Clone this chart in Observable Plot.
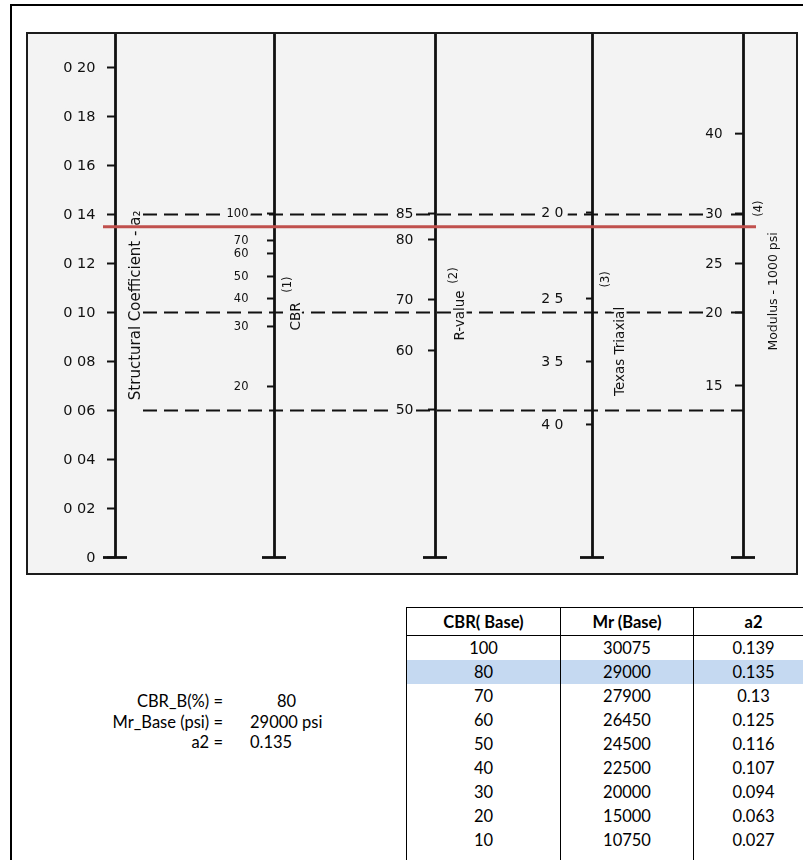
<!DOCTYPE html>
<html>
<head>
<meta charset="utf-8">
<script src="https://cdn.jsdelivr.net/npm/d3@7"></script>
<script src="https://cdn.jsdelivr.net/npm/@observablehq/plot@0.6"></script>
<style>
  html, body { margin: 0; padding: 0; background: #fff; }
  #page { position: relative; width: 803px; height: 860px; overflow: hidden; background: #fff; }
  .edge { position: absolute; background: #000; }
  #nomo { position: absolute; left: 27px; top: 33px; width: 770px; height: 541px; }
  #nomo svg { display: block; filter: blur(0.3px); }
  #nomo-border { position: absolute; left: 26px; top: 32px; width: 772px; height: 543px;
                 border: 2px solid #1c1c1c; box-sizing: border-box; pointer-events: none; }
  .inp { position: absolute; font-family: Lato, "Open Sans", sans-serif; font-size: 16.5px;
         line-height: 20px; color: #000; white-space: nowrap; }
  table.lut { position: absolute; left: 406px; top: 607px; width: 407px; border-collapse: collapse;
              table-layout: fixed; font-family: Lato, "Open Sans", sans-serif; font-size: 16.5px; color: #000; }
  .lut th { height: 27px; padding: 0; font-weight: 700; text-align: center; border: 1.5px solid #000; }
  .lut td { height: 24px; padding: 0; text-align: center; border-left: 1.5px solid #000; border-right: 1.5px solid #000; }
  .lut tr.sel td { background: #c5d9f1; }
</style>
</head>
<body>
<div id="page">
  <div class="edge" style="left:10px;top:4px;width:793px;height:2px"></div>
  <div class="edge" style="left:10px;top:4px;width:1.5px;height:856px"></div>
  <div id="nomo"></div>
  <div id="nomo-border"></div>
</div>
<script>
// ---- Nomograph scales (each tick sits at the a2 level it corresponds to) ----
const axisIds = ["a2", "CBR", "R", "TT", "Mr"];

const a2Ticks = [0, 0.02, 0.04, 0.06, 0.08, 0.10, 0.12, 0.14, 0.16, 0.18, 0.20];
const a2TickLabels = ["0", "0 02", "0 04", "0 06", "0 08", "0 10", "0 12", "0 14", "0 16", "0 18", "0 20"];

const cbrTicks = [100, 70, 60, 50, 40, 30, 20];
const cbrLevels = [0.1404, 0.1294, 0.1241, 0.1147, 0.1057, 0.0943, 0.0698];

const rTicks = [85, 80, 70, 60, 50];
const rLevels = [0.1404, 0.1298, 0.1053, 0.0845, 0.0604];

const ttTicks = ["2 0", "2 5", "3 5", "4 0"];
const ttLevels = [0.1408, 0.1057, 0.0800, 0.0543];

const mrTicks = [40, 30, 25, 20, 15];
const mrLevels = [0.1730, 0.1404, 0.1200, 0.1000, 0.0702];

const axisTitles = ["Structural Coefficient - a\u2082", "CBR", "R-value", "Texas Triaxial", "Modulus - 1000 psi"];
const axisNumbers = ["", "(1)", "(2)", "(3)", "(4)"];

// worked-example guide lines
const guideLevels = [0.14, 0.10, 0.06];

// ---- Lookup table and selected design values ----
const tableHeaders = ["CBR( Base)", "Mr (Base)", "a2"];
const tableCBR = [100, 80, 70, 60, 50, 40, 30, 20, 10];
const tableMr = [30075, 29000, 27900, 26450, 24500, 22500, 20000, 15000, 10750];
const tableA2 = [0.139, 0.135, 0.13, 0.125, 0.116, 0.107, 0.094, 0.063, 0.027];

const selectedCBR = 80;
const selectedMr = 29000;
const selectedA2 = 0.135;

// ---- layout ----
const bg = "#f3f3f3";
const ink = "#111";
const axisX = [88, 247, 408, 565, 716];            // horizontal stations of the five scales
const tickStyle = [
  {dx: -20, len: 8, size: 14.5, halo: 6},
  {dx: -26, len: 7, size: 11.5, halo: 6},
  {dx: -22, len: 7, size: 14,   halo: 6},
  {dx: -29, len: 6, size: 14,   halo: 11},
  {dx: -21, len: 8, size: 13.5, halo: 6}
];
const titleStyle = [
  {level: 0.1029, dx: 20, size: 15,   numLevel: 0,      numDx: 0},
  {level: 0.0984, dx: 21, size: 13.5, numLevel: 0.1114, numDx: 13},
  {level: 0.0988, dx: 24, size: 13.5, numLevel: 0.1151, numDx: 18},
  {level: 0.0841, dx: 27, size: 13.5, numLevel: 0.1135, numDx: 13},
  {level: 0.1086, dx: 29, size: 12.5, numLevel: 0.1424, numDx: 15}
];

const pair = (labels, levels) => labels.map((t, i) => ({text: String(t), level: levels[i]}));
const scaleTicks = [
  pair(a2TickLabels, a2Ticks),
  pair(cbrTicks, cbrLevels),
  pair(rTicks, rLevels),
  pair(ttTicks, ttLevels),
  pair(mrTicks, mrLevels)
];

const first = 0, last = axisIds.length - 1;

const marks = [
  // dashed example lines
  Plot.ruleY(guideLevels, {x1: first, x2: last, y: d => d, insetLeft: 28,
    stroke: ink, strokeWidth: 2.2, strokeDasharray: "14,7"}),
  // the five vertical scales with their foot caps
  Plot.ruleX(axisIds, {x: (d, i) => i, stroke: ink, strokeWidth: 2.8}),
  Plot.ruleY(axisIds, {x1: (d, i) => i, x2: (d, i) => i, y: 0, insetLeft: -12, insetRight: -12,
    stroke: ink, strokeWidth: 2.8})
];

scaleTicks.forEach((ticks, a) => {
  const s = tickStyle[a];
  marks.push(
    Plot.ruleY(ticks, {x1: a, x2: a, y: "level", insetLeft: -s.len, insetRight: 0,
      stroke: ink, strokeWidth: 2}),
    Plot.text(ticks, {x: a, y: "level", text: "text", textAnchor: "end", dx: s.dx,
      fontSize: s.size, fill: ink, stroke: bg, strokeWidth: s.halo, paintOrder: "stroke"})
  );
});

axisTitles.forEach((title, a) => {
  const s = titleStyle[a];
  marks.push(Plot.text([{text: title, level: s.level}], {x: a, y: "level", text: "text", rotate: -90,
    dx: s.dx, fontSize: s.size, fill: ink, stroke: bg, strokeWidth: 5, paintOrder: "stroke"}));
  if (axisNumbers[a]) {
    marks.push(Plot.text([{text: axisNumbers[a], level: s.numLevel}], {x: a, y: "level", text: "text",
      rotate: -90, dx: s.numDx, fontSize: 11.5, fill: ink}));
  }
});

// selected structural coefficient
marks.push(Plot.ruleY([selectedA2], {x1: first, x2: last, y: d => d, insetLeft: -12, insetRight: -13,
  stroke: "#c0504d", strokeWidth: 3}));

const chart = Plot.plot({
  width: 770,
  height: 541,
  marginTop: 0, marginRight: 0, marginBottom: 17, marginLeft: 0,
  x: {type: "linear", domain: axisIds.map((d, i) => i), range: axisX, axis: null},
  y: {type: "linear", domain: [0, 0.2], range: [524, 34], axis: null},
  style: {background: bg, fontFamily: "'DejaVu Sans', Arial, sans-serif", overflow: "visible"},
  marks
});
document.getElementById("nomo").append(chart);

// ---- input summary ----
const page = d3.select("#page");
const inputLabels = ["CBR_B(%) =", "Mr_Base (psi) =", "a2 ="];
const inputValues = [String(selectedCBR), `${selectedMr} psi`, String(selectedA2)];
const inputTop = [691, 712, 732];
const valueLeft = [277, 250, 250];
inputLabels.forEach((lab, i) => {
  page.append("div").attr("class", "inp")
    .style("left", "0px").style("width", "223px").style("text-align", "right")
    .style("top", inputTop[i] + "px").text(lab);
  page.append("div").attr("class", "inp")
    .style("left", valueLeft[i] + "px").style("top", inputTop[i] + "px").text(inputValues[i]);
});

// ---- lookup table ----
const table = page.append("table").attr("class", "lut");
const cg = table.append("colgroup");
[154, 133, 120].forEach(w => cg.append("col").style("width", w + "px"));
table.append("thead").append("tr").selectAll("th").data(tableHeaders).join("th").text(d => d);
const body = table.append("tbody");
body.selectAll("tr.row")
  .data(tableCBR.map((c, i) => [c, tableMr[i], tableA2[i]]))
  .join("tr").attr("class", r => r[0] === selectedCBR ? "row sel" : "row")
  .selectAll("td").data(r => r).join("td").text(d => d);
// table continues past the bottom edge
body.append("tr").selectAll("td").data(tableHeaders).join("td").html("&nbsp;");
</script>
</body>
</html>
